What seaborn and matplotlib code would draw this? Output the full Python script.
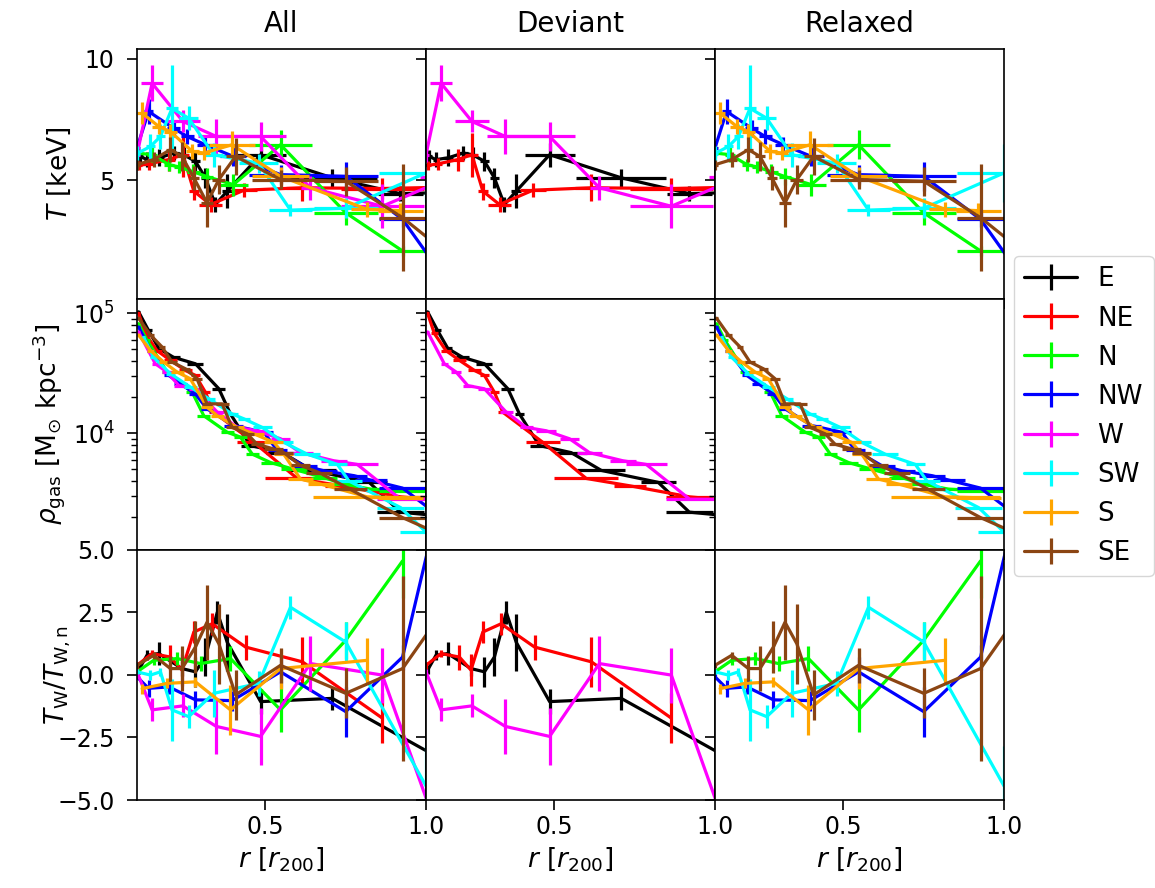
import matplotlib
matplotlib.use("Agg")
import matplotlib.pyplot as plt
from matplotlib.lines import Line2D
import seaborn as sns

# ---------------- data ----------------
names = ["E", "NE", "N", "NW", "W", "SW", "S", "SE"]
colors = ["black", "red", "lime", "blue", "magenta", "cyan", "orange", "saddlebrown"]
col_titles = ["All", "Deviant", "Relaxed"]
deviant = ["E", "NE", "W"]
relaxed = ["N", "NW", "SW", "S", "SE"]

# temperature profiles: radius, T [keV], x-error, y-error
t_r_E = [0.11, 0.131, 0.168, 0.216, 0.245, 0.282, 0.313, 0.344, 0.381, 0.485, 0.708, 0.92, 1.08]
t_E = [5.98, 5.85, 5.92, 6.12, 6.05, 5.78, 5.10, 4.00, 4.55, 6.05, 5.10, 4.45, 4.5]
t_xe_E = [0.01, 0.01, 0.015, 0.015, 0.015, 0.015, 0.015, 0.015, 0.015, 0.078, 0.14, 0.07, 0.08]
t_ye_E = [0.25, 0.3, 0.35, 0.3, 0.3, 0.4, 0.4, 0.3, 0.7, 0.5, 0.37, 0.3, 0.3]

t_r_NE = [0.105, 0.136, 0.199, 0.243, 0.277, 0.329, 0.433, 0.615, 0.864, 1.08]
t_NE = [5.61, 5.67, 5.85, 6.05, 4.55, 4.0, 4.59, 4.69, 4.66, 4.72]
t_xe_NE = [0.01, 0.015, 0.02, 0.02, 0.015, 0.035, 0.04, 0.05, 0.13, 0.08]
t_ye_NE = [0.2, 0.25, 0.45, 0.9, 0.35, 0.3, 0.3, 0.55, 0.45, 0.3]

t_r_N = [0.10, 0.147, 0.20, 0.23, 0.275, 0.318, 0.40, 0.547, 0.75, 0.927]
t_N = [6.12, 6.05, 5.64, 5.55, 5.35, 5.15, 4.82, 6.46, 3.66, 2.09]
t_xe_N = [0.01, 0.015, 0.015, 0.015, 0.02, 0.02, 0.047, 0.097, 0.1, 0.073]
t_ye_N = [0.2, 0.3, 0.25, 0.25, 0.3, 0.35, 0.45, 0.6, 0.5, 0.2]

t_r_NW = [0.10, 0.136, 0.214, 0.256, 0.313, 0.40, 0.547, 0.75, 0.927, 1.078]
t_NW = [6.33, 7.83, 7.14, 6.80, 6.46, 5.98, 5.23, 5.16, 3.39, 0.59]
t_xe_NW = [0.01, 0.015, 0.02, 0.02, 0.025, 0.04, 0.097, 0.1, 0.073, 0.078]
t_ye_NW = [0.3, 0.5, 0.35, 0.3, 0.3, 0.4, 0.4, 0.6, 0.3, 0.3]

t_r_W = [0.10, 0.147, 0.243, 0.347, 0.485, 0.64, 0.864, 1.08]
t_W = [6.05, 8.99, 7.42, 6.80, 6.80, 4.69, 3.93, 5.14]
t_xe_W = [0.01, 0.034, 0.053, 0.057, 0.08, 0.03, 0.13, 0.1]
t_ye_W = [0.3, 0.75, 0.45, 0.7, 0.6, 0.5, 0.9, 0.5]

t_r_SW = [0.10, 0.142, 0.173, 0.209, 0.261, 0.339, 0.479, 0.578, 0.75, 1.0]
t_SW = [6.1, 6.39, 6.8, 7.96, 7.55, 6.05, 5.7, 3.77, 3.85, 5.3]
t_xe_SW = [0.01, 0.015, 0.015, 0.02, 0.03, 0.03, 0.06, 0.068, 0.1, 0.146]
t_ye_SW = [0.3, 0.5, 0.5, 1.8, 0.5, 0.5, 0.4, 0.25, 0.4, 1.2]

t_r_S = [0.116, 0.168, 0.204, 0.272, 0.308, 0.396, 0.547, 0.817, 0.92]
t_S = [7.76, 7.21, 7.0, 6.19, 6.12, 6.46, 5.16, 3.8, 3.75]
t_xe_S = [0.016, 0.02, 0.02, 0.02, 0.02, 0.073, 0.09, 0.05, 0.07]
t_ye_S = [0.45, 0.3, 0.3, 0.3, 0.3, 0.55, 0.4, 0.3, 0.3]

t_r_SE = [0.10, 0.152, 0.204, 0.24, 0.277, 0.318, 0.355, 0.407, 0.547, 0.75, 0.927, 1.078]
t_SE = [5.64, 5.85, 6.26, 5.98, 5.1, 4.07, 5.03, 5.98, 5.03, 4.96, 3.46, 1.86]
t_xe_SE = [0.01, 0.015, 0.015, 0.015, 0.015, 0.02, 0.02, 0.03, 0.09, 0.1, 0.073, 0.078]
t_ye_SE = [0.2, 0.3, 0.5, 0.6, 0.5, 1.0, 0.6, 0.75, 0.4, 0.6, 2.2, 0.5]

# gas density profiles: radius, rho_gas [Msun kpc^-3], x-error
d_r_E = [0.105, 0.136, 0.168, 0.214, 0.282, 0.355, 0.391, 0.453, 0.552, 0.646, 0.823, 0.92, 1.08]
d_E = [1.03e5, 7.2e4, 5.1e4, 4.3e4, 3.8e4, 2.35e4, 1.45e4, 7.9e3, 6.9e3, 4.9e3, 3.9e3, 2.2e3, 2.0e3]
d_xe_E = [0.005, 0.01, 0.012, 0.02, 0.025, 0.02, 0.015, 0.03, 0.05, 0.075, 0.055, 0.073, 0.08]

d_r_NE = [0.105, 0.126, 0.162, 0.204, 0.251, 0.282, 0.313, 0.339, 0.464, 0.599, 0.734, 0.921, 1.08]
d_NE = [1.0e5, 6.8e4, 4.9e4, 4.06e4, 3.34e4, 3.04e4, 2.2e4, 1.5e4, 8.4e3, 4.2e3, 3.65e3, 2.95e3, 2.7e3]
d_xe_NE = [0.005, 0.01, 0.015, 0.02, 0.02, 0.015, 0.015, 0.015, 0.052, 0.1, 0.05, 0.073, 0.08]

d_r_N = [0.105, 0.131, 0.194, 0.272, 0.308, 0.381, 0.422, 0.459, 0.516, 0.589, 0.682, 0.745, 0.828, 0.927, 1.08]
d_N = [8.2e4, 5.96e4, 3.24e4, 2.2e4, 1.4e4, 1.02e4, 9.3e3, 6.7e3, 5.7e3, 5.0e3, 4.27e3, 3.77e3, 3.42e3, 3.31e3, 3.3e3]
d_xe_N = [0.005, 0.01, 0.015, 0.02, 0.02, 0.02, 0.02, 0.02, 0.03, 0.04, 0.04, 0.04, 0.05, 0.073, 0.08]

d_r_NW = [0.105, 0.142, 0.199, 0.235, 0.282, 0.318, 0.401, 0.495, 0.537, 0.620, 0.682, 0.776, 0.828, 0.927, 1.08]
d_NW = [7.7e4, 4.9e4, 3.04e4, 2.59e4, 2.13e4, 1.6e4, 1.16e4, 1.02e4, 7.2e3, 5.36e3, 4.87e3, 4.43e3, 4.07e3, 3.49e3, 1.7e3]
d_xe_NW = [0.005, 0.01, 0.015, 0.02, 0.02, 0.02, 0.03, 0.03, 0.03, 0.04, 0.04, 0.04, 0.05, 0.073, 0.08]

d_r_W = [0.105, 0.157, 0.194, 0.230, 0.282, 0.35, 0.412, 0.474, 0.547, 0.609, 0.713, 0.786, 0.921, 1.08]
d_W = [7.0e4, 3.8e4, 3.24e4, 2.5e4, 2.35e4, 1.5e4, 1.12e4, 1.05e4, 9.0e3, 6.9e3, 5.9e3, 5.5e3, 2.82e3, 2.8e3]
d_xe_W = [0.005, 0.01, 0.015, 0.015, 0.02, 0.02, 0.02, 0.03, 0.03, 0.04, 0.04, 0.063, 0.073, 0.08]

d_r_SW = [0.121, 0.152, 0.204, 0.266, 0.324, 0.396, 0.433, 0.49, 0.557, 0.63, 0.724, 0.76, 0.921, 1.0]
d_SW = [6.3e4, 4.3e4, 3.14e4, 2.43e4, 1.94e4, 1.45e4, 1.32e4, 1.12e4, 8.4e3, 6.7e3, 5.5e3, 4.0e3, 2.4e3, 1.5e3]
d_xe_SW = [0.005, 0.01, 0.015, 0.02, 0.02, 0.02, 0.02, 0.03, 0.03, 0.04, 0.03, 0.04, 0.073, 0.08]

d_r_S = [0.105, 0.142, 0.183, 0.225, 0.266, 0.318, 0.35, 0.412, 0.464, 0.526, 0.557, 0.609, 0.672, 0.817, 0.92]
d_S = [6.6e4, 4.9e4, 3.93e4, 3.24e4, 2.85e4, 1.65e4, 1.4e4, 1.12e4, 9.9e3, 8.4e3, 6.7e3, 4.15e3, 3.77e3, 2.95e3, 2.9e3]
d_xe_S = [0.005, 0.01, 0.015, 0.02, 0.02, 0.02, 0.02, 0.02, 0.03, 0.03, 0.03, 0.04, 0.04, 0.17, 0.07]

d_r_SE = [0.105, 0.142, 0.178, 0.209, 0.251, 0.287, 0.318, 0.365, 0.396, 0.443, 0.474, 0.526, 0.557, 0.609, 0.667, 0.765, 0.927, 1.08]
d_SE = [9.1e4, 6.6e4, 5.25e4, 3.93e4, 3.45e4, 2.85e4, 1.76e4, 1.76e4, 1.12e4, 9.9e3, 8.1e3, 7.4e3, 6.9e3, 5.4e3, 4.7e3, 3.4e3, 1.98e3, 1.3e3]
d_xe_SE = [0.005, 0.01, 0.01, 0.015, 0.015, 0.015, 0.015, 0.02, 0.02, 0.02, 0.02, 0.03, 0.03, 0.03, 0.04, 0.05, 0.073, 0.08]

# temperature ratio T_W / T_W,n: radius, value, y-error
q_r_E = [0.105, 0.131, 0.168, 0.24, 0.282, 0.313, 0.35, 0.381, 0.485, 0.708, 1.08]
q_E = [0.19, 0.78, 0.85, 0.25, 0.12, 0.71, 2.5, 1.3, -1.07, -0.94, -3.6]
q_ye_E = [0.15, 0.2, 0.45, 0.3, 0.6, 0.75, 0.45, 1.15, 0.5, 0.45, 0.5]

q_r_NE = [0.10, 0.147, 0.204, 0.24, 0.277, 0.334, 0.438, 0.615, 0.864]
q_NE = [0.38, 0.85, 0.71, 0.19, 1.71, 2.04, 1.11, 0.52, -1.73]
q_ye_NE = [0.15, 0.15, 0.5, 0.65, 0.45, 0.45, 0.5, 1.0, 1.0]

q_r_N = [0.10, 0.152, 0.225, 0.298, 0.391, 0.547, 0.75, 0.927]
q_N = [0.12, 0.58, 0.65, 0.45, 0.65, -1.40, 1.38, 4.55]
q_ye_N = [0.1, 0.2, 0.25, 0.3, 0.5, 0.9, 0.75, 1.5]

q_r_NW = [0.10, 0.136, 0.199, 0.282, 0.396, 0.547, 0.75, 0.927, 1.078]
q_NW = [-0.08, -0.54, -0.48, -1.0, -1.03, 0.12, -1.47, 0.71, 8.9]
q_ye_NW = [0.1, 0.35, 0.3, 0.35, 0.4, 0.6, 1.0, 0.5, 1.0]

q_r_W = [0.10, 0.147, 0.243, 0.347, 0.485, 0.64, 0.864, 1.08]
q_W = [0.12, -1.40, -1.24, -2.06, -2.46, 0.45, -0.01, -7.8]
q_ye_W = [0.1, 0.46, 0.46, 1.1, 1.15, 1.1, 1.1, 1.0]

q_r_SW = [0.10, 0.142, 0.173, 0.209, 0.261, 0.339, 0.479, 0.578, 0.75, 1.0]
q_SW = [0.12, -0.01, 0.12, -1.40, -1.67, -0.74, -0.34, 2.70, 1.31, -4.44]
q_ye_SW = [0.1, 0.2, 0.15, 1.25, 0.45, 0.95, 0.5, 0.45, 0.8, 1.6]

q_r_S = [0.116, 0.194, 0.282, 0.391, 0.547, 0.817]
q_S = [-0.55, -0.34, -0.28, -1.40, 0.25, 0.58]
q_ye_S = [0.2, 0.2, 0.2, 1.0, 0.8, 0.9]

q_r_SE = [0.10, 0.152, 0.204, 0.24, 0.282, 0.318, 0.355, 0.407, 0.547, 0.75, 0.927, 1.078]
q_SE = [0.38, 0.78, 0.25, 0.25, 1.11, 2.1, 1.24, -0.8, 0.38, -0.74, 0.25, 3.0]
q_ye_SE = [0.1, 0.15, 0.5, 0.9, 1.05, 1.5, 1.6, 1.0, 0.7, 1.0, 3.7, 1.0]

x_ticks = [0.5, 1.0]
x_ticklabels = ["0.5", "1.0"]
t_ticks = [5, 10]
q_ticks = [-5.0, -2.5, 0.0, 2.5, 5.0]

# ---------------- assemble tables ----------------
g = globals()
T_data = {n: (g["t_r_" + n], g["t_" + n], g["t_xe_" + n], g["t_ye_" + n]) for n in names}
D_data = {n: (g["d_r_" + n], g["d_" + n], g["d_xe_" + n]) for n in names}
Q_data = {n: (g["q_r_" + n], g["q_" + n], g["q_ye_" + n]) for n in names}
color_of = dict(zip(names, colors))
groups = [names, deviant, relaxed]

# ---------------- style ----------------
sns.set_style("ticks")
plt.rcParams.update({
    "font.family": ["DejaVu Sans"],
    "axes.edgecolor": "black",
    "axes.linewidth": 1.2,
    "text.color": "black",
    "axes.labelcolor": "black",
    "xtick.color": "black",
    "ytick.color": "black",
    "xtick.direction": "out",
    "ytick.direction": "out",
    "xtick.major.size": 7,
    "ytick.major.size": 7.5,
    "xtick.major.width": 1.2,
    "ytick.major.width": 1.2,
    "ytick.minor.size": 4,
    "ytick.minor.width": 1.0,
    "xtick.major.pad": 4,
    "ytick.major.pad": 8.5,
    "xtick.labelsize": 17,
    "ytick.labelsize": 17,
    "axes.labelsize": 19,
    "mathtext.fontset": "dejavusans",
})

LW = 2.3

fig, axes = plt.subplots(3, 3, figsize=(11.55, 8.88), dpi=100, sharex=True, sharey="row")
fig.subplots_adjust(left=137 / 1155, right=1004 / 1155, top=1 - 49 / 888, bottom=1 - 800 / 888,
                    wspace=0, hspace=0)
axes[1, 0].set_yscale("log")

for c, members in enumerate(groups):
    for n in members:
        col = color_of[n]
        # temperature
        ax = axes[0, c]
        r, v, xe, ye = T_data[n]
        sns.lineplot(x=r, y=v, ax=ax, color=col, lw=LW, estimator=None, sort=False, legend=False)
        ax.errorbar(r, v, xerr=xe, yerr=ye, fmt="none", ecolor=col, elinewidth=LW)
        # density
        ax = axes[1, c]
        r, v, xe = D_data[n]
        sns.lineplot(x=r, y=v, ax=ax, color=col, lw=LW, estimator=None, sort=False, legend=False)
        ax.errorbar(r, v, xerr=xe, fmt="none", ecolor=col, elinewidth=LW)
        # ratio
        ax = axes[2, c]
        r, v, ye = Q_data[n]
        sns.lineplot(x=r, y=v, ax=ax, color=col, lw=LW, estimator=None, sort=False, legend=False)
        ax.errorbar(r, v, yerr=ye, fmt="none", ecolor=col, elinewidth=LW)
    axes[0, c].set_title(col_titles[c], fontsize=20, pad=12)

for ax in axes.flat:
    ax.set_xlabel("")
    ax.set_ylabel("")
    for s in ax.spines.values():
        s.set_visible(True)
for c in range(3):
    axes[2, c].set_xlabel(r"$r$ [$r_{200}$]")

axes[0, 0].set_xlim(0.1, 1.0)
axes[0, 0].set_xticks(x_ticks)
axes[0, 0].set_xticklabels(x_ticklabels)

axes[0, 0].set_ylim(0.1, 10.4)
axes[0, 0].set_yticks(t_ticks)
axes[1, 0].set_ylim(1.07e3, 1.31e5)
axes[2, 0].set_ylim(-5, 5)
axes[2, 0].set_yticks(q_ticks)

axes[0, 0].set_ylabel(r"$T$ [keV]")
axes[1, 0].set_ylabel(r"$\rho_{\rm gas}$ [M$_{\odot}$ kpc$^{-3}$]")
axes[2, 0].set_ylabel(r"$T_{\rm W}/T_{\rm W,n}$")
axes[0, 0].yaxis.set_label_coords(-0.222, 0.5)
axes[2, 0].yaxis.set_label_coords(-0.222, 0.5)

handles = [Line2D([], [], color=c, lw=LW, marker="|", markersize=19, markeredgewidth=LW) for c in colors]
fig.legend(handles, names, loc="upper left", bbox_to_anchor=(1014 / 1155, 1 - 256 / 888),
           fontsize=18.8, borderaxespad=0, frameon=True, fancybox=True, edgecolor="0.8",
           framealpha=0.8, handlelength=2.0)

fig.savefig("out.png", dpi=100)
